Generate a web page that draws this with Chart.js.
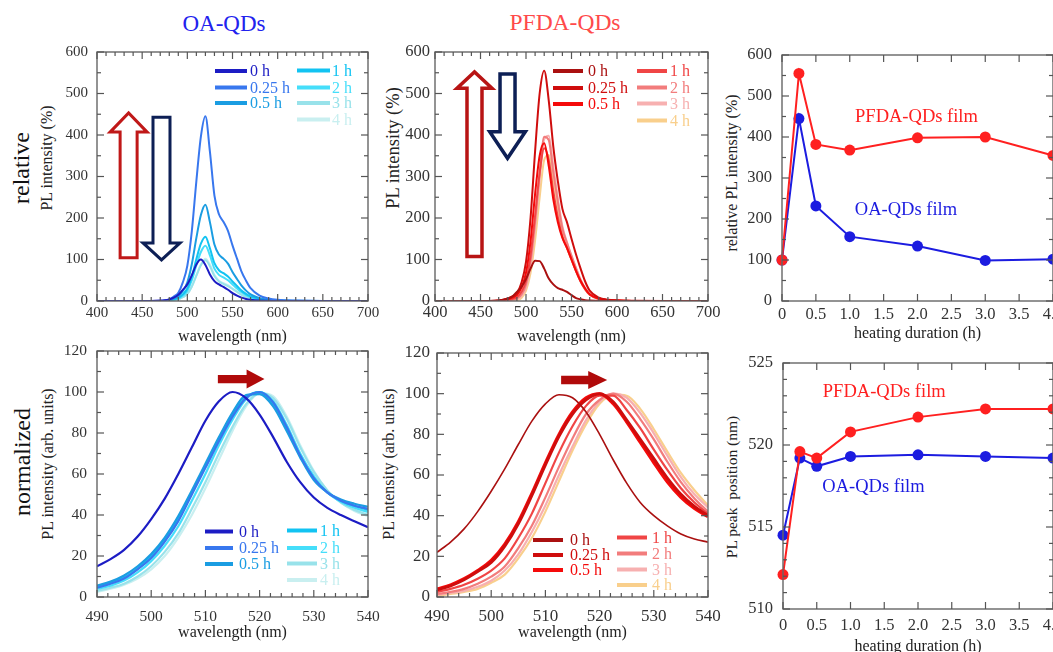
<!DOCTYPE html>
<html><head><meta charset="utf-8">
<script src="https://cdn.jsdelivr.net/npm/chart.js@4.4.0/dist/chart.umd.min.js"></script>
<style>
html,body{margin:0;padding:0;background:#fff;width:1053px;height:652px;overflow:hidden;position:relative;}
canvas{position:absolute;}
.lbl{position:absolute;font-family:"Liberation Serif","DejaVu Serif",serif;white-space:nowrap;color:#222;line-height:1;}
.c{transform:translate(-50%,-50%);}
.rot{transform:translate(-50%,-50%) rotate(-90deg);}
</style></head><body>
<div class="lbl c" style="left:224px;top:23px;font-size:23px;color:#2222ee;">OA-QDs</div>
<div class="lbl c" style="left:565px;top:23px;font-size:23.5px;color:#ff4a4a;">PFDA-QDs</div>
<div class="lbl rot" style="left:21px;top:168px;font-size:24px;color:#111;">relative</div>
<div class="lbl rot" style="left:22px;top:462px;font-size:24px;color:#111;">normalized</div>
<div class="lbl rot" style="left:47px;top:158px;font-size:16px;">PL intensity (%)</div>
<div class="lbl rot" style="left:393px;top:148px;font-size:18.5px;">PL intensity (%)</div>
<div class="lbl rot" style="left:732px;top:173px;font-size:16px;">relative PL intensity (%)</div>
<div class="lbl rot" style="left:48px;top:464px;font-size:16px;">PL intensity (arb. units)</div>
<div class="lbl rot" style="left:389px;top:464px;font-size:16px;">PL intensity (arb. units)</div>
<div class="lbl rot" style="left:732px;top:487px;font-size:15.5px;">PL peak&nbsp; position (nm)</div>
<canvas id="p1"></canvas><canvas id="p2"></canvas><canvas id="p3"></canvas>
<canvas id="p4"></canvas><canvas id="p5"></canvas><canvas id="p6"></canvas>
<script>
// ---------------- DATA ----------------
const durationLabels = ['0 h', '0.25 h', '0.5 h', '1 h', '2 h', '3 h', '4 h'];
const heatHours = [0, 0.25, 0.5, 1, 2, 3, 4];
const relPFDAfilm = [100, 555, 382, 368, 398, 400, 355];
const relOAfilm = [100, 445, 232, 157, 134, 99, 102];
const peakPFDAfilm = [512.1, 519.6, 519.2, 520.8, 521.7, 522.2, 522.2];
const peakOAfilm = [514.5, 519.2, 518.7, 519.3, 519.4, 519.3, 519.2];

const wlRel = [400,460,470,475,480,485,490,495,500,505,510,515,520,525,530,535,540,545,550,555,560,565,570,580,590,600,620,650,700];
const oaRel0h   = [0,0,1,2,4,8,15,27,40,62,88,100,87,64,48,40,34,27,19,13,8,5,3,1,0.5,0,0,0,0];
const oaRel025h = [0,0,0,1,4,11,20,45,85,169,289,396,445,360,254,209,191,169,134,102,71,49,31,13,6,3,1,0,0];
const oaRel05h  = [0,0,0,0.5,2,6,11,24,45,89,152,207,232,190,136,112,102,90,70,53,37,25,16,7,3,1.5,0.5,0,0];
const oaRel1h   = [0,0,0,0.3,1.5,4,7.5,16,30,59,101,138,155,127,91,74,67,59,47,36,25,17,11,5,2,1,0,0,0];
const oaRel2h   = [0,0,0,0,1,3,6,13,25,50,86,118,133,110,78,63,57,50,40,30,21,14,9,4,2,1,0,0,0];
const oaRel3h   = [0,0,0,0,0.5,2,4,9,17,35,61,86,98,84,60,47,41,36,29,22,15,10,7,3,1,0.5,0,0,0];
const oaRel4h   = [0,0,0,0,0.5,2,4,9,17,35,62,88,102,88,63,49,43,38,30,23,16,11,7,3,1.5,0.5,0,0,0];

const pfRel0h   = [0,0,1,3,6,11,22,34,53,78,97,96,78,54,40,31,27,22,14,7,4,2,1,0,0,0,0,0,0];
const pfRel025h = [0,0,1,3,6,11,19,44,94,200,361,500,555,483,372,289,222,190,150,112,78,47,25,8,3,1.5,0.5,0,0];
const pfRel05h  = [0,0,0.5,2,4,8,14,32,68,144,258,350,380,325,245,190,152,128,100,72,48,30,16,6,2,1,0,0,0];
const pfRel1h   = [0,0,0.3,1,2.5,5,9,22,48,110,206,309,368,340,265,202,155,128,100,72,47,28,15,5,2,1,0,0,0];
const pfRel2h   = [0,0,0,0.5,1.5,3,6,16,40,96,191,306,396,388,310,239,175,140,108,78,50,30,16,6,2,1,0,0,0];
const pfRel3h   = [0,0,0,0.3,1,2.5,4,12,32,84,176,292,390,398,324,248,180,142,110,80,52,31,17,6,2,1,0,0,0];
const pfRel4h   = [0,0,0,0.2,0.8,1.5,2,7,25,67,146,249,340,352,295,227,163,128,99,72,47,28,15,5,2,1,0,0,0];

const wlNorm = [490,492.5,495,497.5,500,502.5,505,507.5,510,512.5,515,517.5,520,522.5,525,527.5,530,532.5,535,537.5,540];
const oaNorm0h   = [15,18.5,23,29.5,38,48,60,73,86,95.5,100,97,89,78,66,56,48.5,43.5,40,37,34];
const oaNorm025h = [4.5,6.5,9,13.5,19,27,37,50,63,76,88,97,100,95,83,69,58,51,47,44.5,43];
const oaNorm05h  = [5.5,7.5,10.5,15,21,29,39.5,52,65,78,90,98.5,99,93,81,68,57,51,47.5,45.5,44];
const oaNorm1h   = [5,7,9.5,14,20,28,38,51,64,77,89,97.5,100,94.5,82.5,68.5,58,51,47,44.5,42.5];
const oaNorm2h   = [4,5.5,8,12,17.5,25,34.5,47,60,74,86.5,96.5,100,95.5,84,70,59,51,46.5,43.5,41.5];
const oaNorm3h   = [3,4.5,6.5,10,15,22,31,43,56,70,83,94,99.5,97,87,73,61,52,46,42.5,40];
const oaNorm4h   = [2.5,4,6,9,13.5,20,29,40,53,67,81,93,99.5,98,88,74,61.5,52,46,42,39.5];

const pfNorm0h   = [22,27,33.5,42,52,63,75,86.5,95,99.5,98,91,80,67.5,56,46.5,40,35,31,28.5,27];
const pfNorm025h = [3.5,5.5,8.5,12.5,17,25,36,50,65,79,90,97,100,96,87,77.5,68,58.5,50.5,44.5,40];
const pfNorm05h  = [4,6,9,13,18,26,37,51,66,80,91,98,100,95,86,76,66,56.5,49,43.5,39.5];
const pfNorm1h   = [2.5,4,6,9,13,19,29,41,56,71,84,94,99,99,92,83,72.5,62.5,53.5,46.5,41];
const pfNorm2h   = [1.5,2.5,4,6.5,10,15,24,35,49,64,78,90,97,100,96,87.5,77.5,66.5,56.5,48.5,42];
const pfNorm3h   = [1,2,3,5,8,13,21,32,45,60,74,87,96,100,98,90.5,80.5,69.5,59,50.5,44];
const pfNorm4h   = [0.5,1.5,2.5,4,7,11,19,29,42,57,72,85,95,99.5,99,92.5,82.5,71.5,61,52.5,45];

// ---------------- STYLE ----------------
const OA_COLORS = ['#1c1cc4','#3877ee','#1a9de2','#12c3f2','#45defa','#98e2ea','#c9eff0'];
const PF_COLORS = ['#aa1010','#cf0d0d','#f50a0a','#f04545','#f27c7c','#f7b0b0','#f9cf8c'];
const RED = '#ff2020', BLUE = '#1c1ce0';
Chart.defaults.font.family = "'Liberation Serif','DejaVu Serif',serif";

const DECO = {};   // per-canvas decoration settings (frame ticks, legend, arrows, notes)

const decoPlugin = {
  id: 'deco',
  beforeDatasetsDraw(chart) {
    const o = DECO[chart.canvas.id]; if (!o) return;
    const {ctx, scales: {x, y}} = chart;
    (o.arrows || []).forEach(ar => {
      ctx.save();
      ctx.lineWidth = ar.lw; ctx.strokeStyle = ar.color; ctx.fillStyle = ar.bg;
      ctx.lineJoin = 'miter';
      ctx.beginPath();
      if (ar.dir === 'up' || ar.dir === 'down') {
        const xc = x.getPixelForValue(ar.x), y0 = y.getPixelForValue(ar.from),
              yh = y.getPixelForValue(ar.head), ya = y.getPixelForValue(ar.tip);
        ctx.moveTo(xc - ar.sw, y0); ctx.lineTo(xc - ar.sw, yh); ctx.lineTo(xc - ar.hw, yh);
        ctx.lineTo(xc, ya); ctx.lineTo(xc + ar.hw, yh); ctx.lineTo(xc + ar.sw, yh); ctx.lineTo(xc + ar.sw, y0);
      } else {
        const yc = y.getPixelForValue(ar.y), x0 = x.getPixelForValue(ar.from),
              xh = x.getPixelForValue(ar.head), xa = x.getPixelForValue(ar.tip);
        ctx.moveTo(x0, yc - ar.sw); ctx.lineTo(xh, yc - ar.sw); ctx.lineTo(xh, yc - ar.hw);
        ctx.lineTo(xa, yc); ctx.lineTo(xh, yc + ar.hw); ctx.lineTo(xh, yc + ar.sw); ctx.lineTo(x0, yc + ar.sw);
      }
      ctx.closePath(); ctx.fill();
      if (ar.lw > 0) ctx.stroke();
      ctx.restore();
    });
  },
  afterDatasetsDraw(chart) {
    const o = DECO[chart.canvas.id]; if (!o) return;
    const {ctx, chartArea: a, scales: {x, y}} = chart;
    ctx.save();
    ctx.strokeStyle = '#666'; ctx.lineWidth = 1.4;
    ctx.strokeRect(a.left, a.top, a.right - a.left, a.bottom - a.top);
    ctx.lineWidth = 1.2; ctx.strokeStyle = '#555';
    const seg = (x1, y1, x2, y2) => { ctx.beginPath(); ctx.moveTo(x1, y1); ctx.lineTo(x2, y2); ctx.stroke(); };
    const eps = 1e-6;
    const xt = (v, len) => { const p = x.getPixelForValue(v); seg(p, a.bottom, p, a.bottom - len); seg(p, a.top, p, a.top + len); };
    const yt = (v, len) => { const p = y.getPixelForValue(v); seg(a.left, p, a.left + len, p); seg(a.right, p, a.right - len, p); };
    for (let v = x.min; v <= x.max + eps; v += o.minorX) {
      const r = (v - x.min) / o.majorX;
      xt(v, Math.abs(r - Math.round(r)) < 1e-6 ? 7 : 4);
    }
    for (let v = y.min; v <= y.max + eps; v += o.minorY) {
      const r = (v - y.min) / o.majorY;
      yt(v, Math.abs(r - Math.round(r)) < 1e-6 ? 7 : 4);
    }
    if (o.legend) {
      const lg = o.legend;
      ctx.font = lg.font + "px 'Liberation Serif', serif";
      ctx.textBaseline = 'middle'; ctx.textAlign = 'left';
      lg.cols.forEach(col => {
        col.idx.forEach((di, r) => {
          const ds = chart.data.datasets[di];
          const ry = a.top + col.rows[r];
          ctx.strokeStyle = ds.borderColor; ctx.lineWidth = lg.lw;
          seg(a.left + col.line[0], ry, a.left + col.line[1], ry);
          ctx.fillStyle = ds.borderColor;
          ctx.fillText(ds.label, a.left + col.text, ry + 1);
        });
      });
    }
    (o.notes || []).forEach(n => {
      ctx.font = n.size + "px 'Liberation Serif', serif";
      ctx.textAlign = 'center'; ctx.textBaseline = 'middle';
      ctx.fillStyle = n.color;
      ctx.fillText(n.text, x.getPixelForValue(n.x), y.getPixelForValue(n.y));
    });
    ctx.restore();
  }
};

function makePanel(id, area, o) {
  const L = 100, T = 15, R = 20, B = 55;
  DECO[id] = o.deco;
  const cv = document.getElementById(id);
  const W = area.r - area.l + L + R, H = area.b - area.t + T + B;
  cv.width = W; cv.height = H;
  cv.style.width = W + 'px'; cv.style.height = H + 'px';
  cv.style.left = (area.l - L) + 'px';
  cv.style.top = (area.t - T) + 'px';
  const tLh = o.tickSize * 1.2;
  const xTLh = o.xTitleSize * 1.2;
  return new Chart(cv, {
    type: 'line',
    data: { datasets: o.datasets },
    options: {
      responsive: false, animation: false, devicePixelRatio: 1,
      layout: { padding: { left: 0, top: T, right: R, bottom: 0 } },
      plugins: { legend: { display: false }, tooltip: { enabled: false } },
      elements: { line: { fill: false } },
      scales: {
        x: {
          type: 'linear', position: 'bottom', min: o.xMin, max: o.xMax,
          grid: { display: false, drawTicks: false }, border: { display: false },
          ticks: { stepSize: o.xStep, padding: o.xLabelY - area.b - tLh / 2, color: '#333',
                   font: { size: o.tickSize }, maxRotation: 0, autoSkip: false },
          title: { display: true, text: o.xTitle, color: '#222', font: { size: o.xTitleSize },
                   padding: { top: 0, bottom: (area.b + B) - o.xTitleY - xTLh / 2 } },
          afterFit(s) { s.height = B; s.paddingLeft = 0; s.paddingRight = 0; }
        },
        y: {
          type: 'linear', position: 'left', min: o.yMin, max: o.yMax,
          grid: { display: false, drawTicks: false }, border: { display: false },
          ticks: { stepSize: o.yStep, padding: area.l - o.yLabelRight, color: '#333', font: { size: o.tickSize } },
          afterFit(s) { s.width = L; s.paddingTop = 0; s.paddingBottom = 0; }
        }
      }
    },
    plugins: [decoPlugin]
  });
}

function spectra(wl, series, colors, widths) {
  return series.map((vals, i) => ({
    label: durationLabels[i],
    data: wl.map((w, k) => ({ x: w, y: vals[k] })),
    borderColor: colors[i], backgroundColor: colors[i],
    borderWidth: widths[i], pointRadius: 0, cubicInterpolationMode: 'monotone'
  }));
}
function film(label, ys, color) {
  return { label, data: heatHours.map((h, k) => ({ x: h, y: ys[k] })), borderColor: color, backgroundColor: color,
           borderWidth: 2, pointRadius: 5.5, pointBorderWidth: 0, tension: 0, clip: false };
}

// ---------- Panel 1: OA relative ----------
makePanel('p1', {l: 97, r: 368, t: 52, b: 301}, {
  xMin: 400, xMax: 700, xStep: 50, yMin: 0, yMax: 600, yStep: 100,
  tickSize: 15, xLabelY: 313, yLabelRight: 88, xTitle: 'wavelength (nm)', xTitleSize: 16, xTitleY: 337,
  datasets: spectra(wlRel, [oaRel0h, oaRel025h, oaRel05h, oaRel1h, oaRel2h, oaRel3h, oaRel4h], OA_COLORS, [2,2,2,2,2,2,2]),
  deco: { majorX: 50, minorX: 10, majorY: 100, minorY: 50,
    legend: { font: 16, lw: 4, cols: [
      { idx: [0,1,2], rows: [19,35.5,51], line: [118,150], text: 153 },
      { idx: [3,4,5,6], rows: [18.5,35.5,51,67.5], line: [200,233], text: 235 } ] },
    arrows: [
      { dir: 'up', x: 435, from: 104, head: 407, tip: 453, sw: 8.5, hw: 18.5, color: '#c01818', bg: '#ffffff', lw: 3 },
      { dir: 'down', x: 471.4, from: 443, head: 140, tip: 99, sw: 8.5, hw: 18.5, color: '#0d1f55', bg: '#ffffff', lw: 3 } ] }
});

// ---------- Panel 2: PFDA relative ----------
makePanel('p2', {l: 435, r: 708, t: 52, b: 301}, {
  xMin: 400, xMax: 700, xStep: 50, yMin: 0, yMax: 600, yStep: 100,
  tickSize: 16.5, xLabelY: 313, yLabelRight: 430, xTitle: 'wavelength (nm)', xTitleSize: 16, xTitleY: 337,
  datasets: spectra(wlRel, [pfRel0h, pfRel025h, pfRel05h, pfRel1h, pfRel2h, pfRel3h, pfRel4h], PF_COLORS, [2,2,2,2,2,2,2]),
  deco: { majorX: 50, minorX: 10, majorY: 100, minorY: 50,
    legend: { font: 16, lw: 4, cols: [
      { idx: [0,1,2], rows: [19,36,52], line: [118,148], text: 153 },
      { idx: [3,4,5,6], rows: [19,35.5,51.5,68.5], line: [202,232], text: 235 } ] },
    arrows: [
      { dir: 'up', x: 443.4, from: 107, head: 512.5, tip: 552, sw: 7.5, hw: 17.5, color: '#b81414', bg: '#ffffff', lw: 3.5 },
      { dir: 'down', x: 479.7, from: 547, head: 408, tip: 344, sw: 7.5, hw: 17.8, color: '#0d1f55', bg: '#ffffff', lw: 3.5 } ] }
});

// ---------- Panel 3: relative PL vs heating ----------
makePanel('p3', {l: 782, r: 1053, t: 55, b: 301}, {
  xMin: 0, xMax: 4, xStep: 0.5, yMin: 0, yMax: 600, yStep: 100,
  tickSize: 16.5, xLabelY: 315, yLabelRight: 772, xTitle: 'heating duration (h)', xTitleSize: 16, xTitleY: 334,
  datasets: [film('PFDA-QDs film', relPFDAfilm, RED), film('OA-QDs film', relOAfilm, BLUE)],
  deco: { majorX: 0.5, minorX: 0.5, majorY: 100, minorY: 50,
    notes: [ { text: 'PFDA-QDs film', x: 1.985, y: 449, color: RED, size: 18.5 },
             { text: 'OA-QDs film', x: 1.83, y: 222, color: BLUE, size: 18.5 } ] }
});

// ---------- Panel 4: OA normalized ----------
makePanel('p4', {l: 97, r: 368, t: 351, b: 597}, {
  xMin: 490, xMax: 540, xStep: 10, yMin: 0, yMax: 120, yStep: 20,
  tickSize: 15.5, xLabelY: 617, yLabelRight: 87, xTitle: 'wavelength (nm)', xTitleSize: 16, xTitleY: 633,
  datasets: spectra(wlNorm, [oaNorm0h, oaNorm025h, oaNorm05h, oaNorm1h, oaNorm2h, oaNorm3h, oaNorm4h], OA_COLORS, [2.2,2.2,2.2,2.2,2.2,2.2,2.2]),
  deco: { majorX: 10, minorX: 2, majorY: 20, minorY: 10,
    legend: { font: 16, lw: 4, cols: [
      { idx: [0,1,2], rows: [180.5,197,213], line: [108,136], text: 142 },
      { idx: [3,4,5,6], rows: [179.5,197,212.5,229], line: [190,220], text: 223 } ] },
    arrows: [ { dir: 'right', y: 106.3, from: 512.3, head: 517.6, tip: 520.9, sw: 4.2, hw: 9.5, color: '#b00a0a', bg: '#b00a0a', lw: 0 } ] }
});

// ---------- Panel 5: PFDA normalized ----------
makePanel('p5', {l: 437, r: 708, t: 353, b: 597}, {
  xMin: 490, xMax: 540, xStep: 10, yMin: 0, yMax: 120, yStep: 20,
  tickSize: 17, xLabelY: 617, yLabelRight: 430, xTitle: 'wavelength (nm)', xTitleSize: 16, xTitleY: 633,
  datasets: spectra(wlNorm, [pfNorm0h, pfNorm025h, pfNorm05h, pfNorm1h, pfNorm2h, pfNorm3h, pfNorm4h], PF_COLORS, [1.6,3,3,2.2,2.2,2.2,2.2]),
  deco: { majorX: 10, minorX: 2, majorY: 20, minorY: 10,
    legend: { font: 16, lw: 4, cols: [
      { idx: [0,1,2], rows: [187,202,217], line: [96,126], text: 133 },
      { idx: [3,4,5,6], rows: [184.5,200.5,216.5,232], line: [180,210], text: 215 } ] },
    arrows: [ { dir: 'right', y: 106.7, from: 512.9, head: 517.9, tip: 521.4, sw: 4.2, hw: 9, color: '#b00a0a', bg: '#b00a0a', lw: 0 } ] }
});

// ---------- Panel 6: peak position ----------
makePanel('p6', {l: 783, r: 1053, t: 363, b: 609}, {
  xMin: 0, xMax: 4, xStep: 0.5, yMin: 510, yMax: 525, yStep: 5,
  tickSize: 16.5, xLabelY: 626, yLabelRight: 773, xTitle: 'heating duration (h)', xTitleSize: 16, xTitleY: 647,
  datasets: [film('PFDA-QDs film', peakPFDAfilm, RED), film('OA-QDs film', peakOAfilm, BLUE)],
  deco: { majorX: 0.5, minorX: 0.5, majorY: 5, minorY: 1,
    notes: [ { text: 'PFDA-QDs film', x: 1.5, y: 523.2, color: RED, size: 18.5 },
             { text: 'OA-QDs film', x: 1.34, y: 517.46, color: BLUE, size: 18.5 } ] }
});
</script>
</body></html>
